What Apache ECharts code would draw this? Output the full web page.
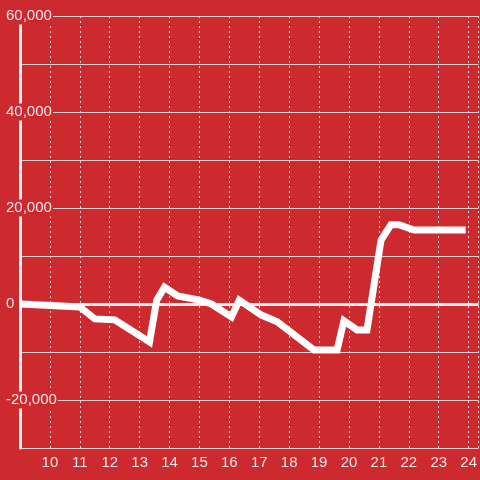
<!DOCTYPE html>
<html>
<head>
<meta charset="utf-8">
<script src="https://cdn.jsdelivr.net/npm/echarts@6/dist/echarts.min.js"></script>
<style>
  html, body { margin: 0; padding: 0; background: #cd2a2f; }
  #chart { width: 480px; height: 480px; }
</style>
</head>
<body>
<div id="chart"></div>
<script>
// hours of the day (decimal) and value at each point
const hours = [9.03, 11.0, 11.5, 12.17, 13.33, 13.57, 13.83, 14.27, 15.0, 15.4, 16.07, 16.33,
  17.07, 17.6, 18.83, 19.6, 19.83, 20.27, 20.6, 21.07, 21.4, 21.67, 22.17, 23.9];
const values = [0, -600, -3100, -3300, -7900, 800, 3500, 1700, 800, 0, -2700, 800,
  -2300, -3700, -9600, -9600, -3500, -5400, -5400, 13300, 16500, 16500, 15400, 15400];
const yTickLabels = [60000, 40000, 20000, 0, -20000];

const bg = "#cd2a2f";
const font = "Liberation Sans, Arial, sans-serif";

const chart = echarts.init(document.getElementById("chart"));

const fmtNum = (v) => v.toLocaleString("en-US");

chart.setOption({
  backgroundColor: bg,
  animation: false,
  grid: { left: 20, right: 0, top: 16, bottom: 32 },
  xAxis: {
    type: "value",
    min: 9,
    max: 24.333,
    interval: 1,
    axisLine: { show: false },
    axisTick: { show: false },
    axisLabel: {
      color: "#f2e6e6",
      fontSize: 15,
      fontFamily: font,
      margin: 7,
      showMaxLabel: false,
      showMinLabel: false,
      formatter: (v) => (Number.isInteger(v) && v >= 10 ? String(v) : "")
    },
    splitLine: { lineStyle: { color: "#e6d6d6", type: [2, 3], width: 1 } }
  },
  yAxis: [
    {
      type: "value",
      min: -30000,
      max: 60000,
      interval: 10000,
      axisLine: { show: false },
      axisTick: { show: false },
      axisLabel: { show: false },
      splitLine: { lineStyle: { color: "#dcd0d0", width: 1 } }
    },
    {
      type: "value",
      position: "left",
      z: 3,
      min: -30000,
      max: 60000,
      interval: 10000,
      axisLine: { show: true, lineStyle: { color: "#f4f0f0", width: 3 } },
      axisTick: { show: false },
      splitLine: { show: false },
      axisLabel: {
        color: "#f2e6e6",
        fontSize: 15,
        fontFamily: font,
        align: "left",
        margin: 15,
        backgroundColor: bg,
        padding: [1, 1, 1, 1],
        formatter: (v) => (yTickLabels.includes(v) ? fmtNum(v) : "")
      }
    }
  ],
  series: [
    {
      type: "line",
      data: hours.map((h, i) => [h, values[i]]),
      showSymbol: false,
      lineStyle: { color: "#ffffff", width: 7, join: "miter" },
      z: 5,
      markLine: {
        silent: true,
        symbol: "none",
        label: { show: false },
        lineStyle: { color: "#f4f0f0", width: 3, type: "solid" },
        data: [{ yAxis: 0 }]
      }
    }
  ]
});
</script>
</body>
</html>
